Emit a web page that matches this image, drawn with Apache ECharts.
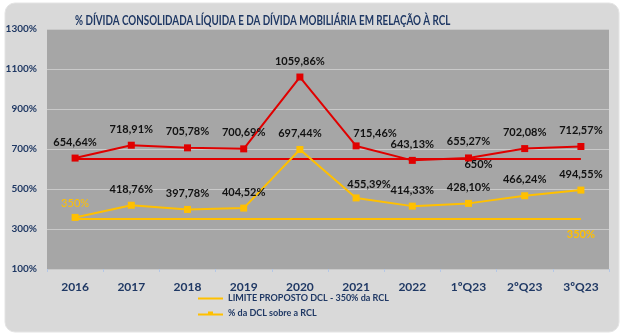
<!DOCTYPE html>
<html><head><meta charset="utf-8">
<script src="https://cdn.jsdelivr.net/npm/echarts@6/dist/echarts.min.js"></script>
<style>html,body{margin:0;padding:0;background:#fff}#c{width:624px;height:335px}</style>
</head><body><div id="c"></div>
<script>
const categories = ['2016','2017','2018','2019','2020','2021','2022','1ºQ23','2ºQ23','3ºQ23'];
const dividaMobiliaria = [654.64, 718.91, 705.78, 700.69, 1059.86, 715.46, 643.13, 655.27, 702.08, 712.57];
const dclSobreRcl = [358, 418.76, 397.78, 404.52, 697.44, 455.39, 414.33, 428.10, 466.24, 494.55];
const limiteRed = [650, 650, 650, 650, 650, 650, 650, 650, 650, 650];
const limiteDcl = [350, 350, 350, 350, 350, 350, 350, 350, 350, 350];
const yTicks = [100, 300, 500, 700, 900, 1100, 1300];
const legendNames = ['LIMITE PROPOSTO DCL - 350% da RCL', '% da DCL sobre a RCL'];
const titleText = '% DÍVIDA CONSOLIDADA LÍQUIDA E DA DÍVIDA MOBILIÁRIA EM RELAÇÃO À RCL';

const RED = '#E00000', YEL = '#FFC000', BLUE = '#1F3864';
const FONT = 'Lato';
const fmt = v => v.toFixed(2).replace('.', ',') + '%';

const baseLabel = {show: true, position: 'top', distance: 7, color: '#111', fontFamily: FONT, fontWeight: 'bold', fontSize: 11};

const redData = dividaMobiliaria.map((v, i) => {
  const d = {value: v};
  if (i === 5) d.label = {offset: [19, 4]};
  return d;
});
const yelData = dclSobreRcl.map((v, i) => {
  const d = {value: v};
  if (i === 0) d.label = {formatter: '350%', color: YEL, fontWeight: 'normal', offset: [0, 2]};
  if (i === 5) d.label = {offset: [13, 3]};
  return d;
});
const limRedData = limiteRed.map((v, i) => i === 7 ? {value: v, label: {show: true, position: 'inside', offset: [10, 5], formatter: v + '%', color: '#111', fontFamily: FONT, fontWeight: 'bold', fontSize: 11}} : v);
const limYelData = limiteDcl.map((v, i) => i === 9 ? {value: v, label: {show: true, position: 'inside', offset: [0, 15], formatter: v + '%', color: YEL, fontFamily: FONT, fontWeight: 'bold', fontSize: 11}} : v);

const chart = echarts.init(document.getElementById('c'), null, {renderer: 'canvas'});
chart.setOption({
  animation: false,
  backgroundColor: '#ffffff',
  graphic: [
    {type: 'rect', z: -10, shape: {x: 5, y: 3, width: 614, height: 329, r: 10}, style: {fill: '#D9D9D9', stroke: '#E4E4E4', lineWidth: 1}},
    {type: 'text', z: 10, x: 75, y: 14, scaleX: 0.785, style: {text: titleText, fontFamily: FONT, fontWeight: 'bold', fontSize: 12.5, fill: BLUE, textVerticalAlign: 'top'}}
  ],
  grid: {left: 47, right: 15, top: 29, bottom: 66, show: true, backgroundColor: '#A6A6A6', borderWidth: 0},
  legend: {
    orient: 'vertical', left: 198, top: 294, height: 41, padding: 0, itemWidth: 25, itemHeight: 5, itemGap: 6,
    textStyle: {fontFamily: FONT, fontWeight: 'bold', fontSize: 9, color: BLUE},
    data: [
      {name: legendNames[0], icon: 'path://M0,2 L25,2 L25,4 L0,4 Z'},
      {name: legendNames[1], icon: 'path://M0,2 L10,2 L10,0 L15,0 L15,2 L25,2 L25,4 L0,4 Z'}
    ]
  },
  xAxis: {
    type: 'category', data: categories, boundaryGap: true,
    axisLine: {show: false},
    axisTick: {show: true, length: 3, lineStyle: {color: '#B4C7E7'}},
    axisLabel: {margin: 12, fontFamily: FONT, fontWeight: 'bold', fontSize: 12, color: BLUE}
  },
  yAxis: {
    type: 'value', min: yTicks[0], max: yTicks[yTicks.length - 1], interval: yTicks[1] - yTicks[0],
    axisLine: {show: false}, axisTick: {show: false},
    splitLine: {lineStyle: {color: '#C9C9C9', width: 1}},
    axisLabel: {margin: 10, formatter: v => v + '%', fontFamily: FONT, fontWeight: 'bold', fontSize: 10, color: BLUE}
  },
  series: [
    {name: 'LIMITE 650', type: 'line', data: limRedData, symbol: 'circle', symbolSize: 0, showSymbol: true,
     lineStyle: {color: RED, width: 2}, itemStyle: {color: RED}, z: 2, silent: true},
    {name: legendNames[0], type: 'line', data: limYelData, symbol: 'circle', symbolSize: 0, showSymbol: true,
     lineStyle: {color: YEL, width: 2}, itemStyle: {color: YEL}, z: 2, silent: true},
    {name: 'Dívida Mobiliária', type: 'line', data: redData, symbol: 'rect', symbolSize: 7,
     lineStyle: {color: RED, width: 2}, itemStyle: {color: RED},
     label: Object.assign({}, baseLabel, {formatter: p => fmt(p.value)}), z: 3},
    {name: legendNames[1], type: 'line', data: yelData, symbol: 'rect', symbolSize: 7,
     lineStyle: {color: YEL, width: 2}, itemStyle: {color: YEL},
     label: Object.assign({}, baseLabel, {formatter: p => fmt(p.value)}), z: 3}
  ]
});
</script></body></html>
